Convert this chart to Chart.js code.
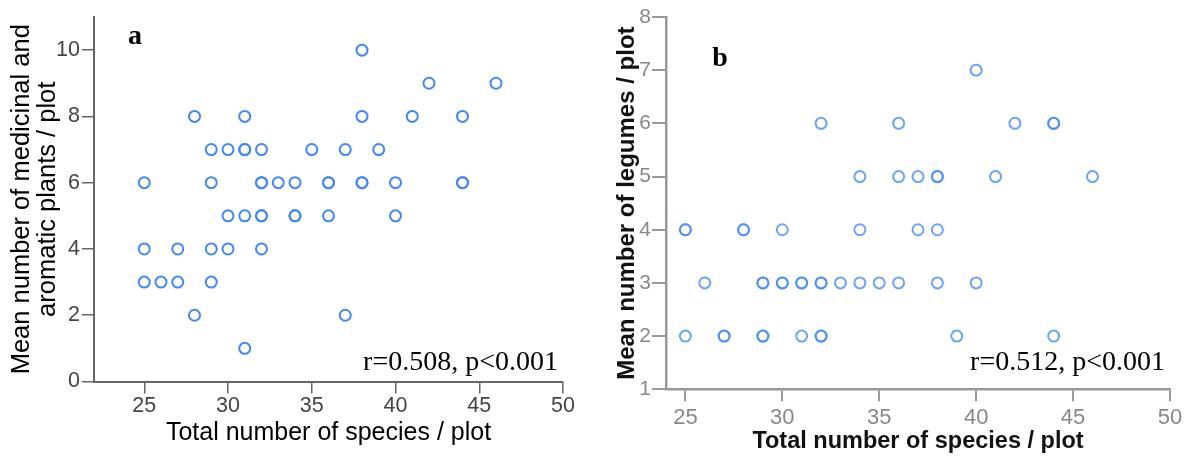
<!DOCTYPE html>
<html>
<head>
<meta charset="utf-8">
<script src="https://cdn.jsdelivr.net/npm/chart.js@4.4.0/dist/chart.umd.min.js"></script>
<style>
  html, body { margin: 0; padding: 0; background: #fff; }
  #wrap { position: relative; width: 1188px; height: 457px; overflow: hidden; }
  #chartA { position: absolute; left: 0; top: 0; }
  #chartB { position: absolute; left: 580px; top: 0; }
</style>
</head>
<body>
<div id="wrap">
  <canvas id="chartA" width="580" height="457"></canvas>
  <canvas id="chartB" width="608" height="457"></canvas>
</div>
<script>
// panel a: medicinal & aromatic plants vs total species
const speciesA = [25,25,25,26,27,27,28,28,29,29,29,29,30,30,30,31,31,31,31,31,32,32,32,32,32,32,33,34,34,34,35,36,36,36,37,37,38,38,38,38,39,40,40,41,42,44,44,44,46];
const plantsA  = [6,4,3,3,4,3,8,2,7,6,4,3,7,5,4,8,7,7,5,1,7,6,6,5,5,4,6,6,5,5,7,6,6,5,7,2,10,8,6,6,7,6,5,8,9,8,6,6,9];

// panel b: legumes vs total species
const speciesB = [25,25,25,26,27,27,28,28,29,29,29,29,30,30,30,31,31,31,32,32,32,32,32,33,34,34,34,35,36,36,36,37,37,38,38,38,38,39,40,40,41,42,44,44,44,46];
const legumesB = [4,4,2,3,2,2,4,4,3,3,2,2,4,3,3,3,3,2,6,3,3,2,2,3,5,4,3,3,6,5,3,5,4,5,5,4,3,2,7,3,5,6,6,6,2,5];

const xTicks  = [25, 30, 35, 40, 45, 50];
const yTicksA = [0, 2, 4, 6, 8, 10];
const yTicksB = [1, 2, 3, 4, 5, 6, 7, 8];

const xTitle = "Total number of species / plot";

function toPoints(xs, ys) {
    return xs.map(function (x, i) { return { x: x, y: ys[i] }; });
}

function setTicks(values) {
    return function (scale) {
        scale.ticks = values.map(function (v) { return { value: v }; });
    };
}

function labelPlugin(letter, lx, ly, stat, sx, sy) {
    return {
        id: "labels",
        afterDraw: function (chart) {
            const ctx = chart.ctx;
            ctx.save();
            ctx.fillStyle = "#000";
            ctx.font = "bold 28px 'Liberation Serif', 'Times New Roman', serif";
            ctx.textAlign = "center";
            ctx.textBaseline = "middle";
            ctx.fillText(letter, lx, ly);
            ctx.font = "28px 'Liberation Serif', 'Times New Roman', serif";
            ctx.textAlign = "right";
            ctx.textBaseline = "alphabetic";
            ctx.fillText(stat, sx, sy);
            ctx.restore();
        },
    };
}

Chart.defaults.font.family = "'Liberation Sans', Arial, sans-serif";

// ---- panel a ----
new Chart(document.getElementById("chartA"), {
    type: "scatter",
    data: {
        datasets: [
            {
                data: toPoints(speciesA, plantsA),
                pointRadius: 5.5,
                pointBorderWidth: 2,
                borderColor: "rgb(66,135,245)",
                backgroundColor: "rgba(0,0,0,0)",
            },
        ],
    },
    options: {
        responsive: false,
        animation: false,
        devicePixelRatio: 1,
        layout: { padding: { left: 0, top: 17, right: 17, bottom: 0 } },
        plugins: { legend: { display: false }, tooltip: { enabled: false } },
        scales: {
            x: {
                type: "linear",
                min: 22,
                max: 50,
                afterBuildTicks: setTicks(xTicks),
                afterFit: function (s) { s.height = 75.5; },
                border: { display: true, color: "#666", width: 2 },
                grid: { drawOnChartArea: false, drawTicks: true, tickLength: 12, color: "#666", lineWidth: 1.5 },
                ticks: { color: "#444", padding: 0, font: { size: 21.5, lineHeight: 1.2 }, maxRotation: 0 },
                title: {
                    display: true,
                    text: xTitle,
                    color: "#000",
                    font: { size: 25, lineHeight: 1 },
                    padding: { top: 0, bottom: 11.5 },
                },
            },
            y: {
                type: "linear",
                min: 0,
                max: 11,
                afterBuildTicks: setTicks(yTicksA),
                afterFit: function (s) { s.width = 94; },
                border: { display: true, color: "#666", width: 2 },
                grid: { drawOnChartArea: false, drawTicks: true, tickLength: 12, color: "#666", lineWidth: 1.5 },
                ticks: { color: "#444", padding: 2, font: { size: 21.5, lineHeight: 1.2 } },
                title: {
                    display: true,
                    text: ["Mean number of medicinal and", "aromatic plants / plot"],
                    color: "#000",
                    font: { size: 25.5, lineHeight: 26 / 25.5 },
                    padding: { top: 9, bottom: 0 },
                },
            },
        },
    },
    plugins: [labelPlugin("a", 135, 37, "r=0.508, p<0.001", 558, 370)],
});

// ---- panel b ----
new Chart(document.getElementById("chartB"), {
    type: "scatter",
    data: {
        datasets: [
            {
                data: toPoints(speciesB, legumesB),
                pointRadius: 5.5,
                pointBorderWidth: 2,
                borderColor: "rgba(72,140,245,0.8)",
                backgroundColor: "rgba(0,0,0,0)",
            },
        ],
    },
    options: {
        responsive: false,
        animation: false,
        devicePixelRatio: 1,
        layout: { padding: { left: 0, top: 17, right: 18, bottom: 0 } },
        plugins: { legend: { display: false }, tooltip: { enabled: false } },
        scales: {
            x: {
                type: "linear",
                min: 24,
                max: 50,
                afterBuildTicks: setTicks(xTicks),
                afterFit: function (s) { s.height = 67.7; },
                border: { display: true, color: "#999", width: 2.5 },
                grid: { drawOnChartArea: false, drawTicks: true, tickLength: 12, color: "#999", lineWidth: 2 },
                ticks: { color: "#888", padding: 3, font: { size: 22, lineHeight: 1.2 }, maxRotation: 0 },
                title: {
                    display: true,
                    text: xTitle,
                    color: "#111",
                    font: { size: 23.5, weight: "bold", lineHeight: 25 / 23.5 },
                    padding: { top: 0, bottom: 2.5 },
                },
            },
            y: {
                type: "linear",
                min: 1,
                max: 8,
                afterBuildTicks: setTicks(yTicksB),
                afterFit: function (s) { s.width = 86; },
                border: { display: true, color: "#999", width: 2.5 },
                grid: { drawOnChartArea: false, drawTicks: true, tickLength: 14, color: "#999", lineWidth: 2 },
                ticks: { color: "#888", padding: 1, font: { size: 21, lineHeight: 1.2 } },
                title: {
                    display: true,
                    text: "Mean number of legumes / plot",
                    color: "#111",
                    font: { size: 24, weight: "bold", lineHeight: 25 / 24 },
                    padding: { top: 34.5, bottom: 0 },
                },
            },
        },
    },
    plugins: [labelPlugin("b", 140, 59, "r=0.512, p<0.001", 585, 370)],
});
</script>
</body>
</html>
